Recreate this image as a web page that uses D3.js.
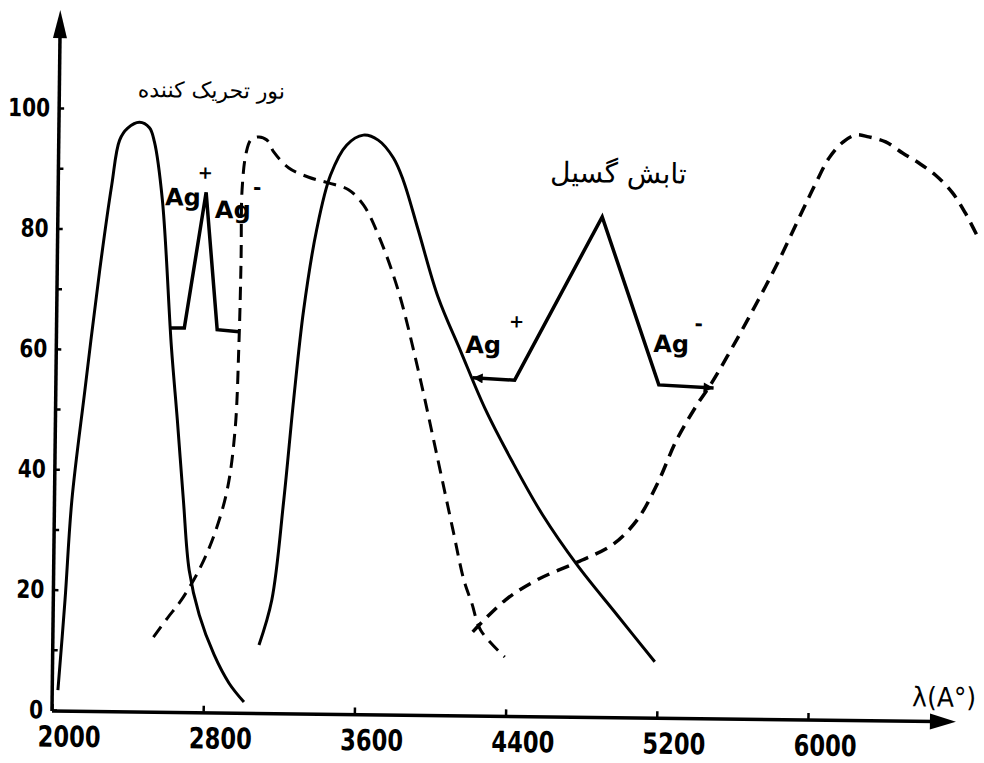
<!DOCTYPE html>
<html>
<head>
<meta charset="utf-8">
<script src="https://cdn.jsdelivr.net/npm/d3@7"></script>
<style>
  body { margin: 0; background: #fff; }
  text { font-family: "DejaVu Sans", sans-serif; fill: #000; }
</style>
</head>
<body>
<svg width="984" height="763"></svg>
<script>
// tick values
const xTicks = [2000, 2800, 3600, 4400, 5200, 6000];
const yTicks = [0, 20, 40, 60, 80, 100];
const yTickMarks = [0, 10, 20, 30, 40, 50, 60, 70, 80, 90, 100];

// curves, [wavelength (A), relative intensity]
const exciteSolid = [[2030,3.3],[2062,18.3],[2092,34.9],[2154,53.2],[2225,73.2],[2283,87.3],[2322,94.8],[2364,96.8],[2426,97.8],[2479,96.9],[2506,94.6],[2552,84.9],[2609,60.5],[2645,48.4],[2682,35.1],[2717,23.5],[2773,16.1],[2854,9.5],[2935,4.8],[3015,1.7]];
const exciteDashed = [[2532,12.3],[2605,15.5],[2677,18.5],[2770,23.6],[2847,29.4],[2913,36.9],[2951,46.9],[2966,61.3],[2972,75.1],[2973,86.8],[2992,92.9],[3017,95.1],[3059,95.6],[3101,95.1],[3139,93.1],[3219,90.5],[3325,89.0],[3430,88.1],[3536,87.0],[3616,84.5],[3696,79.6],[3805,70.4],[3916,57.2],[4026,42.3],[4110,30.7],[4171,22.4],[4214,18.6],[4263,14.1],[4392,9.7]];
const emitSolid = [[3091,11.2],[3156,18.7],[3213,35.3],[3259,52],[3306,66.9],[3370,80.3],[3440,89.4],[3523,94.4],[3611,96.1],[3690,95.3],[3771,92.4],[3825,88.7],[3907,80.5],[4016,69.4],[4141,60.3],[4271,51],[4421,42.1],[4583,33.4],[4770,25.1],[4984,16.9],[5186,9.2]];
const emitDashed = [[4221,13.8],[4393,19.2],[4560,22.6],[4770,25.6],[4953,28.5],[5083,32.7],[5186,38.6],[5288,46.1],[5392,51.9],[5469,55.6],[5598,62.8],[5711,69.5],[5819,76.2],[5942,84.6],[6009,89.1],[6076,93.2],[6149,95.9],[6217,97.1],[6285,96.8],[6375,96],[6465,94.2],[6550,92.6],[6640,90.6],[6731,87.7],[6800,84.4],[6876,79.9]];

// Ag+ / Ag- shift markers
const shiftExcite = [[2597,63.7],[2676,63.7],[2783,86.3],[2850,63.5],[2966,63.2]];
const shiftEmit = [[4205,56],[4427,55.7],[4880,83],[5190,55.2],[5480,54.8]];

const svg = d3.select("svg");

svg.append("defs").append("marker")
  .attr("id", "head")
  .attr("viewBox", "0 0 10 10")
  .attr("refX", 10).attr("refY", 5)
  .attr("markerUnits", "userSpaceOnUse")
  .attr("markerWidth", 16).attr("markerHeight", 10)
  .attr("orient", "auto-start-reverse")
  .append("path")
  .attr("d", "M0,0 L10,5 L0,10 z")
  .attr("fill", "#000");

// the scan is a little tilted
const g = svg.append("g").attr("transform", "rotate(0.68,52,710)");

const x = d3.scaleLinear().domain([2000, 6000]).range([52, 808]);
const y = d3.scaleLinear().domain([0, 100]).range([710, 108]);

// y axis
const yAxis = g.append("g")
  .attr("transform", "translate(52,0)")
  .call(d3.axisLeft(y).tickValues(yTickMarks).tickSizeInner(-5).tickSizeOuter(0).tickPadding(9)
    .tickFormat(d => yTicks.includes(d) ? d : ""));
yAxis.select(".domain").remove();
yAxis.selectAll(".tick line").attr("stroke-width", 2.5);
yAxis.selectAll("text")
  .style("font-size", "25px").style("font-weight", "bold")
  .attr("textLength", d => yTicks.includes(d) ? String(d).length * 14 : null)
  .attr("lengthAdjust", "spacingAndGlyphs");

// x axis
const xAxis = g.append("g")
  .attr("transform", "translate(0,710)")
  .call(d3.axisBottom(x).tickValues(xTicks).tickSizeInner(-6).tickSizeOuter(0).tickFormat(d3.format("d")));
xAxis.select(".domain").remove();
xAxis.selectAll(".tick line").attr("stroke-width", 2.5);
xAxis.selectAll("text")
  .attr("x", 17).attr("y", 16)
  .style("font-size", "29px").style("font-weight", "bold")
  .attr("textLength", 63).attr("lengthAdjust", "spacingAndGlyphs");

g.append("line").attr("x1", 52).attr("y1", 711).attr("x2", 935).attr("y2", 711)
  .attr("stroke", "#000").attr("stroke-width", 3.5);
g.append("path").attr("d", "M930,703 L956,711 L930,719 Z").attr("fill", "#000");
g.append("line").attr("x1", 52).attr("y1", 711).attr("x2", 52).attr("y2", 30)
  .attr("stroke", "#000").attr("stroke-width", 3.5);
g.append("path").attr("d", "M45,38 L52,10 L59,38 Z").attr("fill", "#000");

// curves
const curve = d3.line()
  .x(d => x(d[0]))
  .y(d => y(d[1]))
  .curve(d3.curveCatmullRom.alpha(0.5));

g.append("path").datum(exciteSolid).attr("d", curve)
  .attr("fill", "none").attr("stroke", "#000").attr("stroke-width", 3);
g.append("path").datum(emitSolid).attr("d", curve)
  .attr("fill", "none").attr("stroke", "#000").attr("stroke-width", 3);
g.append("path").datum(exciteDashed).attr("d", curve)
  .attr("fill", "none").attr("stroke", "#000").attr("stroke-width", 3)
  .attr("stroke-dasharray", "13,8");
g.append("path").datum(emitDashed).attr("d", curve)
  .attr("fill", "none").attr("stroke", "#000").attr("stroke-width", 3.5)
  .attr("stroke-dasharray", "13,8");

const straight = d3.line().x(d => x(d[0])).y(d => y(d[1]));

g.append("path").datum(shiftExcite).attr("d", straight)
  .attr("fill", "none").attr("stroke", "#000").attr("stroke-width", 3.5)
  .attr("stroke-linejoin", "miter");
g.append("path").datum(shiftEmit).attr("d", straight)
  .attr("fill", "none").attr("stroke", "#000").attr("stroke-width", 3.5)
  .attr("stroke-linejoin", "miter")
  .attr("marker-start", "url(#head)").attr("marker-end", "url(#head)");

// labels
function label(text, lx, ly, size, anchor, weight) {
  return g.append("text").attr("x", lx).attr("y", ly)
    .attr("text-anchor", anchor || "start")
    .style("font-size", size + "px")
    .style("font-weight", weight || "normal")
    .text(text);
}

label("Ag", 159, 204, 24, "start", "bold");
label("+", 199, 177, 18, "middle", "bold");
label("Ag", 209, 216, 24, "start", "bold");
label("-", 251, 192, 20, "middle", "bold");

label("Ag", 461, 348, 24, "start", "bold");
label("+", 512, 322, 18, "middle", "bold");
label("Ag", 649, 345, 24, "start", "bold");
label("-", 694, 323, 20, "middle", "bold");

label("نور تحریک کننده", 204, 96, 22, "middle");
label("تابش گسیل", 612, 176, 28, "middle");

label("λ(A°)", 912, 696, 27, "start")
  .attr("textLength", 64).attr("lengthAdjust", "spacingAndGlyphs");
</script>
</body>
</html>
